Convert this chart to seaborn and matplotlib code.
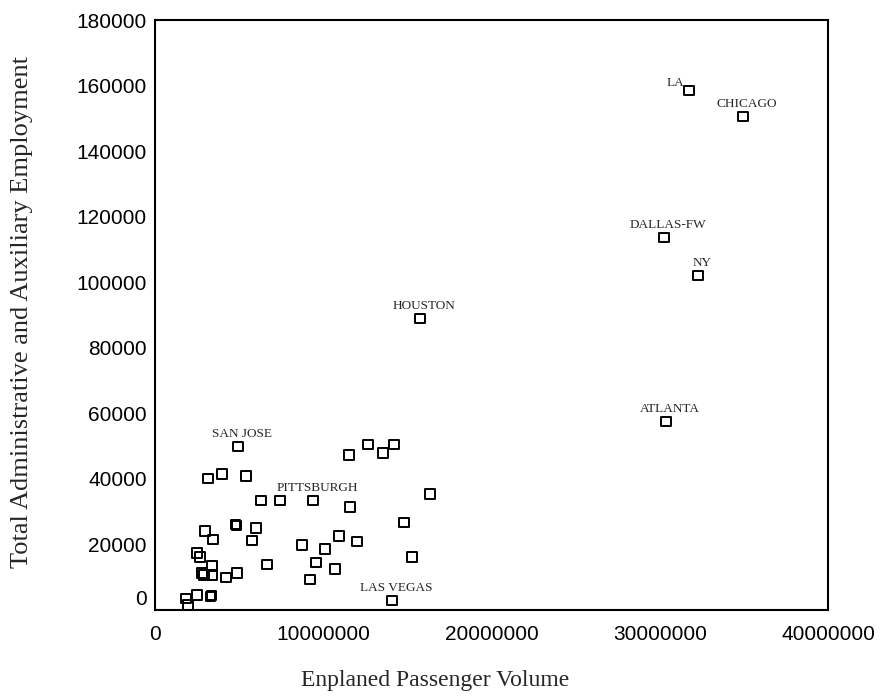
import matplotlib
matplotlib.use('Agg')
import matplotlib.pyplot as plt
import matplotlib.transforms as mtransforms
import seaborn as sns
import pandas as pd

# Airport data (enplaned passengers, employment)
cities = ['LA', 'CHICAGO', 'DALLAS-FW', 'NY', 'HOUSTON', 'ATLANTA',
          'SAN JOSE', 'LAS VEGAS', 'PITTSBURGH']
city_passengers = [31740000, 34950000, 30250000, 32270000, 15750000, 30370000,
                   4930000, 14090000, 9390000]
city_employment = [158500, 150500, 113600, 102000, 88900, 57400,
                   49800, 2800, 33300]

other_passengers = [3150000, 3980000, 5410000, 6300000, 7430000, 11590000,
                    11530000, 12660000, 13550000, 14210000, 16340000, 4780000,
                    4850000, 6000000, 2970000, 3450000, 5770000, 8740000,
                    10100000, 10940000, 12010000, 14800000, 15270000, 2500000,
                    2670000, 3390000, 2790000, 2910000, 3390000, 4220000,
                    4870000, 6660000, 9570000, 10700000, 9210000, 1840000,
                    2500000, 3300000, 3360000, 1960000]
other_employment = [40000, 41500, 40900, 33300, 33300, 31400,
                    47300, 50400, 47900, 50400, 35400, 26200,
                    25800, 25000, 24100, 21400, 21100, 19800,
                    18600, 22600, 20800, 26600, 16200, 17400,
                    16200, 13400, 11300, 10700, 10700, 9800,
                    11300, 14000, 14400, 12500, 9200, 3400,
                    4600, 4000, 4500, 1500]

df = pd.DataFrame({
    'passengers': city_passengers + other_passengers,
    'employment': city_employment + other_employment,
})

sns.set_style('white')
plt.rcParams['font.family'] = ['Liberation Sans', 'DejaVu Sans']

fig = plt.figure(figsize=(8.82, 6.98), dpi=100)
ax = fig.add_axes([155 / 882, 1 - 610 / 698, 673 / 882, 590 / 698])

sns.scatterplot(data=df, x='passengers', y='employment', ax=ax, marker='s',
                s=44, facecolor='none', edgecolor='black', linewidth=1.4)

# City labels centred above their points (LA sits to the left)
for name, xv, yv in zip(cities, city_passengers, city_employment):
    if name == 'LA':
        ax.annotate(name, (xv, yv), xytext=(-3, 1), textcoords='offset points',
                    ha='right', va='bottom', fontsize=9.5, family='Liberation Serif')
    else:
        ax.annotate(name, (xv, yv), xytext=(3, 5), textcoords='offset points',
                    ha='center', va='bottom', fontsize=9.5, family='Liberation Serif')

ax.set_xlim(0, 40000000)
ax.set_ylim(0, 180000)
ax.set_xticks([0, 10000000, 20000000, 30000000, 40000000])
ax.set_yticks(range(0, 180001, 20000))
ax.xaxis.set_major_formatter(matplotlib.ticker.FuncFormatter(lambda v, p: f'{int(v)}'))
ax.yaxis.set_major_formatter(matplotlib.ticker.FuncFormatter(lambda v, p: f'{int(v)}'))
ax.tick_params(axis='both', direction='out', length=3, width=2, color='black',
               labelsize=15, labelcolor='black')
ax.tick_params(axis='x', pad=8)
ax.tick_params(axis='y', pad=3)

# the zero label on the y axis sits a bit higher in the original
lbl0 = ax.get_yticklabels()[0]
lbl0.set_transform(lbl0.get_transform() + mtransforms.ScaledTranslation(0, 9 / 72, fig.dpi_scale_trans))

for sp in ax.spines.values():
    sp.set_visible(True)
    sp.set_color('black')
    sp.set_linewidth(1.5)

ax.set_xlabel('Enplaned Passenger Volume', fontsize=17, family='Liberation Serif',
              va='center')
ax.set_ylabel('Total Administrative and Auxiliary Employment', fontsize=19,
              family='Liberation Serif', va='center')
ax.xaxis.set_label_coords(0.416, -0.119)
ax.yaxis.set_label_coords(-0.198, 0.505)

fig.savefig('out.png', dpi=100)
